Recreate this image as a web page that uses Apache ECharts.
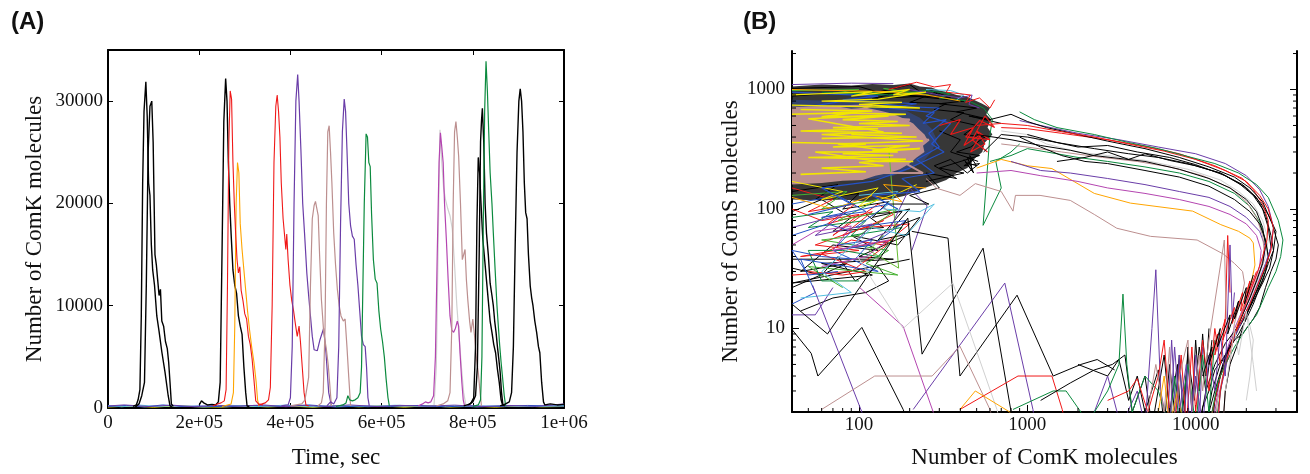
<!DOCTYPE html>
<html><head><meta charset="utf-8">
<script src="https://cdn.jsdelivr.net/npm/echarts@6/dist/echarts.min.js"></script>
<style>html,body{margin:0;padding:0;background:#fff}#c{width:1310px;height:474px}</style>
</head><body><div id="c"></div>
<script>
// ---------------- Panel A data: [time (sec), ComK molecules] ----------------
const xTicksA = [0, 200000, 400000, 600000, 800000, 1000000];
const xTickLabelsA = ['0', '2e+05', '4e+05', '6e+05', '8e+05', '1e+06'];
const yTicksA = [0, 10000, 20000, 30000];

const spkBlack1 = [[55000,150],[62000,300],[66000,800],[70000,1800],[73000,9000],[76000,22000],[79000,29000],[83000,31900],[86000,28500],[89000,22000],[92000,20800],[95000,16000],[98000,13500],[102000,12000],[107000,9000],[112000,7500],[118000,5500],[125000,3500],[132000,1200],[136000,200],[140000,100]];
const spkBlack2 = [[60000,100],[68000,400],[74000,1200],[80000,2500],[84000,12000],[88000,25000],[92000,29500],[96000,30000],[99000,26000],[101000,20500],[103000,15000],[106000,14000],[109000,12500],[112000,11000],[115000,11600],[118000,8500],[122000,8000],[126000,6500],[130000,5800],[133000,4500],[136000,2500],[139000,400],[143000,150]];
const spkBlack3 = [[200000,300],[205000,700],[210000,500],[218000,300],[228000,350],[236000,300],[242000,600],[246000,2500],[250000,15000],[254000,28000],[258000,32200],[261000,30000],[264000,24000],[267000,20000],[270000,17000],[274000,13500],[278000,12000],[282000,11200],[286000,9000],[290000,8000],[294000,7200],[298000,4000],[302000,1500],[305000,200],[310000,150]];
const spkRed1 = [[230000,200],[240000,400],[248000,500],[255000,700],[259000,1800],[262000,12000],[265000,26000],[268000,31000],[271000,30200],[274000,24000],[277000,20000],[280000,17000],[283000,14500],[286000,13200],[289000,13800],[292000,11500],[296000,10500],[300000,9200],[304000,8700],[308000,7000],[312000,6200],[316000,4800],[320000,2800],[324000,700],[330000,400],[340000,300]];
const spkOrange1 = [[250000,150],[262000,300],[270000,400],[275000,1500],[278000,8000],[281000,20000],[284000,24000],[287000,23000],[290000,18000],[294000,15500],[298000,13500],[302000,11500],[306000,9500],[310000,7800],[315000,6000],[320000,4500],[325000,2500],[328000,800],[331000,200]];
const spkRed2 = [[330000,300],[345000,500],[352000,800],[356000,2000],[360000,10000],[364000,24000],[368000,29500],[371000,30600],[374000,29000],[377000,26500],[380000,22000],[384000,18500],[387000,17000],[390000,15500],[392000,17000],[395000,14500],[399000,12000],[403000,10500],[407000,9500],[411000,8200],[415000,7000],[419000,8000],[422000,6500],[426000,4000],[430000,1500],[434000,300],[440000,200]];
const spkPurple1 = [[380000,200],[395000,300],[400000,1000],[404000,6000],[408000,20000],[412000,30000],[416000,32600],[419000,30000],[423000,25300],[427000,20000],[431000,17100],[436000,13200],[440000,11000],[444000,9000],[448000,7000],[452000,5700],[459000,5600],[465000,6700],[473000,7800],[478000,5400],[484000,1500],[490000,200]];
const spkRosy1 = [[400000,200],[425000,400],[432000,800],[436000,900],[440000,3000],[444000,12000],[448000,18500],[452000,19800],[455000,20200],[458000,19500],[461000,18800],[464000,15000],[468000,10600],[473000,7400],[479000,5700],[483000,4200],[486000,2500],[490000,200]];
const spkRosy2 = [[460000,200],[468000,500],[472000,1500],[476000,8000],[479000,20000],[482000,27000],[485000,27600],[488000,25000],[491000,22000],[495000,17100],[499000,14000],[503000,11600],[507000,10000],[511000,9000],[516000,8500],[520000,8700],[524000,6000],[528000,3000],[532000,200]];
const spkPurple2 = [[480000,200],[488000,600],[495000,400],[502000,1000],[506000,6000],[510000,18000],[514000,27000],[518000,30200],[521000,29000],[524000,25300],[528000,20000],[532000,17800],[536000,16800],[540000,16500],[544000,14000],[548000,12000],[552000,9500],[556000,7000],[560000,6200],[564000,6000],[567000,4000],[570000,1000],[573000,200]];
const spkGreen1 = [[500000,150],[515000,300],[522000,500],[526000,1200],[530000,800],[536000,700],[542000,800],[548000,1000],[553000,1500],[556000,4000],[559000,12000],[562000,20000],[566000,26800],[569000,26500],[572000,24000],[575000,23600],[578000,19000],[582000,14500],[586000,12600],[590000,12200],[594000,9500],[598000,7700],[602000,6500],[606000,5000],[610000,2800],[614000,1000],[617000,200]];
const spkOrchid1 = [[680000,200],[690000,400],[696000,600],[702000,500],[708000,600],[714000,1200],[718000,5000],[722000,15000],[726000,24000],[729000,26900],[732000,25500],[735000,24000],[738000,20000],[742000,16500],[746000,12500],[750000,9000],[754000,7600],[758000,7400],[762000,7800],[766000,8500],[769000,8000],[772000,5400],[776000,2500],[779000,800],[782000,200]];
const spkGray1 = [[715000,300],[720000,4000],[724000,16000],[728000,27200],[732000,24000],[736000,21500],[740000,20400],[745000,19500],[750000,18800],[755000,17500],[760000,14000],[765000,10000],[770000,7000],[775000,4000],[780000,1500],[785000,200]];
const spkRosy3 = [[720000,200],[735000,400],[745000,700],[750000,1500],[754000,8000],[757000,20000],[760000,27000],[763000,28000],[766000,26500],[769000,24600],[773000,20000],[777000,14500],[780000,15000],[783000,15500],[786000,12500],[789000,10600],[793000,8500],[796000,7400],[800000,8700],[804000,7000],[808000,4800],[812000,3500],[816000,1500],[819000,200]];
const spkBlack4 = [[780000,200],[795000,400],[802000,1000],[806000,6000],[809000,18000],[812000,24500],[815000,23000],[818000,20000],[822000,16500],[826000,14500],[830000,12500],[834000,10500],[838000,8500],[842000,7400],[846000,6200],[850000,5400],[854000,3800],[858000,2500],[862000,800],[866000,200]];
const spkBlack5 = [[790000,300],[800000,600],[806000,1200],[810000,4000],[814000,15000],[817000,26000],[819000,28000],[821000,29300],[824000,26000],[827000,20000],[830000,17100],[834000,15000],[838000,12200],[842000,11000],[845000,10000],[848000,8500],[851000,7400],[854000,6000],[857000,4800],[860000,3500],[863000,1500],[866000,300],[870000,200]];
const spkGreen2 = [[800000,150],[812000,300],[817000,800],[820000,5000],[823000,18000],[826000,29000],[829000,33900],[832000,31000],[835000,26900],[838000,23000],[842000,20000],[845000,17100],[849000,13500],[853000,10000],[856000,8000],[859000,6100],[862000,4500],[865000,3100],[869000,1200],[872000,200]];
const spkBlack6 = [[860000,200],[872000,400],[880000,600],[885000,1500],[889000,6000],[893000,16000],[897000,25000],[901000,30000],[904000,31200],[907000,30000],[910000,27000],[913000,22000],[916000,19100],[919000,18500],[922000,15000],[926000,11900],[929000,10800],[932000,10000],[936000,8500],[940000,7400],[944000,6000],[947000,5400],[951000,2500],[955000,600],[958000,300],[970000,400],[985000,300],[1000000,350]];

const baseBlue = [[0,150],[40000,250],[80000,100],[120000,300],[160000,150],[200000,200],[260000,120],[320000,250],[380000,150],[440000,300],[500000,100],[560000,200],[620000,150],[680000,250],[740000,120],[800000,220],[860000,150],[920000,250],[1000000,180]];
const baseCyan = [[0,250],[30000,120],[70000,280],[110000,150],[150000,230],[210000,100],[270000,260],[330000,140],[390000,280],[450000,120],[510000,250],[570000,130],[630000,270],[690000,150],[750000,240],[810000,110],[870000,260],[930000,140],[1000000,220]];
const baseYellow = [[0,100],[50000,200],[100000,80],[150000,220],[200000,120],[250000,90],[300000,210],[350000,110],[400000,190],[450000,80],[500000,230],[550000,120],[600000,200],[650000,90],[700000,220],[750000,100],[800000,180],[850000,90],[900000,210],[950000,120],[1000000,150]];
const baseMix = [[0,200],[35000,300],[90000,150],[140000,280],[190000,120],[240000,260],[290000,180],[340000,300],[390000,130],[430000,250],[480000,160],[530000,300],[590000,140],[640000,260],[700000,180],[760000,280],[820000,130],[880000,250],[940000,160],[1000000,400]];

// ---------------- Panel B data: [ComK, ComS] ----------------
const xTicksB = [100, 1000, 10000];
const yTicksB = [10, 100, 1000];
const xMinorB = [50,60,70,80,90,200,300,400,500,600,700,800,900,2000,3000,4000,5000,6000,7000,8000,9000,20000,30000];
const yMinorB = [3,4,5,6,7,8,9,20,30,40,50,60,70,80,90,200,300,400,500,600,700,800,900,2000];

// dense cluster outlines
const hazeDark = [[40,1060],[60,1100],[90,1080],[120,1110],[160,1090],[200,1120],[230,1060],[270,1040],[300,980],[340,950],[380,900],[430,880],[480,820],[540,760],[600,700],[570,620],[610,560],[580,480],[620,420],[560,360],[540,300],[480,260],[440,220],[380,200],[330,175],[280,160],[230,145],[190,130],[150,120],[110,115],[80,120],[60,118],[40,120]];
const bandBlue = [[40,820],[80,800],[130,760],[180,690],[230,580],[270,470],[290,380],[270,300],[240,250],[200,215],[160,190],[120,178],[80,175],[40,172]];
const coreRosy = [[40,720],[55,700],[70,730],[90,690],[110,705],[130,670],[150,640],[170,600],[190,560],[210,520],[225,470],[245,420],[255,380],[240,340],[245,300],[220,270],[200,240],[175,215],[150,200],[125,190],[105,175],[80,172],[60,165],[40,160]];

const clBlack1 = [[40,1020],[100,1060],[130,950],[200,1100],[230,960],[300,900],[260,1000],[350,850],[180,900],[420,800],[300,760],[500,700],[380,650],[600,560],[450,600],[700,520]];
const clBlack2 = [[40,880],[90,960],[160,920],[120,840],[250,880],[200,780],[330,760],[280,680],[420,640],[350,560],[500,500],[420,420],[560,400],[460,330],[380,300],[520,280],[300,220],[420,200],[250,170]];
const clBlack3 = [[300,450],[400,380],[350,300],[480,260],[420,230],[520,240],[440,200],[350,260],[280,230],[380,180],[250,200],[300,150],[200,130],[260,110],[150,110]];
const clBlack4 = [[420,260],[470,210],[455,280],[500,230],[430,245],[480,200],[440,270],[510,250]];
const clBlue1 = [[40,950],[130,880],[80,820],[220,760],[150,700],[280,640],[240,520],[330,560],[260,430],[300,330],[220,260],[280,200],[180,180],[230,140],[120,130],[170,100]];
const clBlue2 = [[45,700],[90,820],[190,720],[300,700],[250,600],[350,520],[270,350],[320,300],[200,220],[120,170],[60,150],[90,110],[50,90]];
const clRed1 = [[300,500],[400,560],[350,420],[480,480],[420,340],[530,420],[460,300],[560,350],[500,450],[600,380],[430,400],[520,550],[640,480],[560,600],[470,380],[580,300]];
const clRed3 = [[150,1000],[220,1150],[280,1050],[350,1100],[330,950],[460,900],[430,780],[520,850],[600,700],[640,820]];
const clGreen2 = [[60,950],[150,900],[250,980],[350,920],[300,850],[450,800],[550,700],[620,560],[600,420],[546,73],[700,150],[650,250],[800,300],[900,350]];
const clGreen3 = [[40,980],[100,1000],[70,930],[180,960],[140,1020],[260,900]];
const clCyan = [[250,1000],[350,980],[420,900],[380,820]];
const clPurple = [[200,1000],[300,900],[400,850],[470,900],[450,750],[520,700]];
const clPurple2 = [[40,1100],[90,1130],[160,1120]];
const clOrange = [[40,1000],[150,960],[250,900],[320,850],[400,800]];

const llRed = [[40,150],[70,120],[50,95],[95,110],[65,75],[120,95],[80,60],[140,80],[55,50],[100,45],[45,40],[160,55],[90,30],[40,28]];
const llRed2 = [[40,100],[60,80],[100,90],[70,60],[130,110],[160,90],[110,70],[200,75],[140,50],[90,55],[60,42],[110,30],[80,28],[50,30]];
const llGreen = [[40,130],[85,140],[60,100],[130,120],[75,80],[170,100],[100,60],[60,55],[150,45],[110,35],[170,28],[50,33],[80,22]];
const llGreen2 = [[150,330],[172,32],[115,45],[140,60]];
const llGreen3 = [[40,85],[70,95],[50,70],[110,80],[90,60],[180,70],[130,40],[80,45],[50,45],[60,25],[100,25]];
const llBlue = [[40,110],[75,130],[110,95],[60,85],[150,110],[95,70],[190,80],[120,50],[70,45],[130,30],[45,38],[55,20],[40,16]];
const llBlue2 = [[40,60],[65,75],[90,65],[75,50],[120,55],[95,38],[60,40],[40,45],[50,28],[75,30]];
const llBlack = [[40,95],[60,120],[90,85],[70,65],[140,70],[110,90],[180,95],[130,55],[200,62],[100,40],[160,38],[60,35],[120,28],[40,24],[200,38]];
const llBlack2 = [[40,140],[75,160],[55,120],[100,135],[80,100],[150,115],[120,85],[200,100],[160,70],[230,85],[170,50],[90,60],[130,45],[70,50],[45,30],[85,35],[40,22]];
const llBlack3 = [[40,32],[60,28],[75,40],[95,25],[130,33],[150,25],[110,20],[70,18],[45,14]];
const llBlackBar = [[40,38],[122,38]];
const llPurple = [[40,70],[80,90],[55,60],[120,75],[90,48],[150,65],[200,150],[254,106],[206,45]];
const llPurple2 = [[40,13],[55,13],[70,22]];
const llMagenta = [[40,50],[55,65],[90,72],[70,45],[150,55],[110,40],[60,33]];
const llCyan = [[100,130],[170,140],[140,100],[230,95],[280,110],[190,60],[120,70],[80,42],[60,30],[90,20],[45,18]];
const llOrange = [[40,125],[70,100],[120,130],[180,115],[140,160],[250,150]];
const llYellow = [[40,170],[80,140],[60,120],[130,150],[100,105],[170,135],[220,160]];

const yel1 = [[40,620],[95,640],[60,590],[150,600],[80,560],[170,540],[100,520],[200,500],[70,480],[130,470],[45,450],[180,430],[90,420],[220,400],[60,390]];
const yel2 = [[40,360],[110,350],[70,330],[200,340],[120,310],[230,320],[80,290],[160,280],[50,270],[190,260],[100,245],[140,230],[60,220],[110,205],[45,195]];
const yel3 = [[40,900],[120,960],[90,880],[200,1000],[160,900],[250,950],[130,830],[60,800],[180,780],[100,750],[230,700],[40,740]];
const yel4 = [[45,680],[120,660],[70,640],[190,620],[110,600],[50,570],[140,440],[60,420],[240,370],[75,350],[170,300],[55,300],[130,250],[210,250]];
const rosyZ = [[40,700],[120,740],[80,600],[200,560],[150,400],[260,380],[180,250],[240,200],[120,200],[60,220]];

const loBlack1 = [[40,16],[65,9],[195,84],[237,6.1],[546,47],[830,1.5]];
const loBlack2 = [[40,9.8],[52,6.2],[57,4],[104,10.2],[183,2.1],[200,1.5]];
const loBlack3 = [[206,65],[338,57],[398,4],[869,19],[1424,4],[2080,5],[2600,5.5],[3300,4.5]];
const loPurple1 = [[53,23],[104,2],[110,1.5]];
const loPurple2 = [[210,2.1],[735,24],[1080,2.1],[1120,1.5]];
const loOrchid = [[101,22],[183,10.4],[276,2],[290,1.5]];
const loGray = [[98,40],[183,10],[361,24],[660,2.1],[700,1.5]];
const loRosy = [[60,2.1],[124,4],[272,4],[398,7.1],[600,2.1],[640,1.5]];
const loRed = [[398,2.1],[880,4],[1400,4],[1612,2.1],[1700,1.5]];
const loOrange = [[398,2.1],[491,3],[786,2],[820,1.5]];
const loGreen = [[822,2.1],[1424,3],[1700,3],[2080,2],[2200,1.5]];

const arcGreen1 = [[900,650],[1100,560],[1500,480],[2500,420],[4000,360],[6000,320],[9000,275],[13000,240],[18000,200],[23000,160],[27000,125],[31000,80],[33000,55],[32000,40],[30000,30],[27000,22],[25000,17],[23000,13],[20000,10],[17000,7],[15000,5],[13500,3.5],[12500,2],[12000,1.5]];
const arcBlack1 = [[600,560],[800,620],[1000,540],[1300,480],[2000,420],[3000,370],[5000,320],[8000,270],[12000,225],[17000,185],[21000,150],[25000,115],[28500,75],[31000,50],[30000,38],[28000,30],[26000,22],[24000,15],[22000,12],[19000,9],[17000,8],[15000,6],[13000,4.5],[12000,3],[11000,2.2],[10500,1.5]];
const arcRed1 = [[500,500],[700,520],[1000,500],[1500,450],[2500,400],[4000,350],[6500,305],[10000,260],[15000,210],[20000,170],[24000,130],[27000,100],[29000,70],[28000,45],[26000,33],[23000,22],[21000,16],[19000,12],[17000,9],[16000,6],[14000,4],[13000,2.5],[12000,1.5]];
const arcRed2 = [[700,480],[1000,470],[1600,430],[3000,380],[5000,335],[8000,290],[13000,230],[19000,180],[22000,145],[25000,110],[27000,80],[26500,55],[25000,40],[23000,28],[21000,20],[19500,15],[18000,11],[16500,8],[15000,5],[14000,3],[13500,1.5]];
const arcBlack2 = [[550,300],[700,420],[1000,400],[1500,360],[2000,330],[3000,340],[4500,300],[7000,270],[10000,235],[15000,190],[20000,150],[24000,115],[27000,90],[30000,65],[29000,45],[27000,35],[25000,25],[22000,18],[20000,13],[18000,10],[16000,7],[14500,5],[13000,3],[12000,2],[11500,1.5]];
const arcBlack3 = [[500,420],[800,380],[1200,340],[1800,310],[2500,280],[3500,265],[5000,250],[8000,215],[12000,180],[16000,150],[20000,120],[23000,95],[25000,70],[26000,50],[25000,35],[23000,25],[21000,18],[19000,13],[17000,9],[15500,6.5],[14000,4],[13000,2.5],[12500,1.5]];
const arcBlack4 = [[900,400],[1200,330],[1600,280],[2200,250],[3000,240],[5000,210],[8000,185],[12000,155],[17000,120],[21000,95],[24000,75],[26000,55],[27000,40],[26000,30],[24000,22],[22000,16],[20000,12],[18000,9],[16000,7],[14000,5],[12500,3],[11500,1.5]];
const arcBlack5 = [[1000,420],[1500,360],[2500,320],[4000,290],[6000,270],[9000,240],[14000,200],[19000,160],[23000,125],[26000,90],[28000,60],[29000,45],[27500,32],[25000,24],[22000,17],[20000,13],[17500,10],[15000,7.5],[13000,5],[11500,3],[10500,1.5]];
const arcBlack6 = [[1500,250],[2200,270],[3000,300],[4000,260],[5000,290],[7000,255],[10000,230],[14000,200],[18000,165],[22000,130],[25000,100],[27000,70],[28000,48],[26500,35],[24500,26],[22500,19],[20500,14],[19000,10],[17500,7],[16000,5],[15000,3],[14500,1.5]];
const arcPurple1 = [[900,550],[1200,500],[2000,430],[3500,380],[6000,330],[10000,290],[15000,240],[20000,190],[24000,145],[27000,105],[29000,70],[28000,48],[26000,35],[24000,26],[22000,19],[20000,14],[18000,10],[16000,7],[15000,4.5],[14000,3],[13500,1.5]];
const arcPurple2 = [[800,250],[1200,210],[1800,200],[3000,180],[5000,160],[8000,140],[12000,125],[16000,105],[20000,85],[24000,65],[26000,48],[25000,35],[23000,25],[21000,18],[19000,13],[17000,9],[15000,6],[14000,4],[13000,2.5],[12000,1.5]];
const arcOrchid = [[500,200],[800,210],[1200,190],[2000,170],[3000,150],[5000,135],[8000,120],[12000,105],[16000,90],[20000,75],[23000,60],[24500,45],[24000,33],[22000,24],[20000,17],[18000,12],[16500,9],[15000,6],[14000,4],[13000,2],[12500,1.5]];
const arcOrange = [[500,220],[700,260],[1000,230],[1400,218],[2500,135],[4100,112],[9600,96],[14100,74],[18000,65],[21000,57],[22000,52],[22500,34],[21500,25],[20000,18],[18500,13],[17000,9],[15500,6],[14000,4],[13000,2.5],[12000,1.5]];
const arcRosy1 = [[250,180],[290,149],[398,130],[491,163],[700,140],[822,96],[850,130],[1190,130],[1800,118],[2500,90],[3400,69],[5400,59],[10200,55],[14600,42],[17000,35],[19000,30],[19500,24],[19000,20],[18000,15],[17000,11],[16500,8],[16000,5],[15000,3],[14500,1.5]];
const arcRosy2 = [[700,350],[1000,330],[1600,300],[2800,270],[4500,250],[7000,225],[11000,190],[16000,150],[20000,115],[23000,85],[25000,60],[25500,45],[24500,33],[22500,24],[20500,17],[18500,12],[17000,9],[15500,6],[14500,4],[13500,2.5],[13000,1.5]];
const arcGray = [[700,450],[1000,420],[1300,350],[2000,300],[3000,280],[5000,255],[9000,215],[14000,175],[18000,140],[22000,110],[25000,80],[27000,55],[26000,40],[24000,28],[22000,20],[20000,14],[22000,8],[21000,4],[20000,2.5]];
const arcGreen2 = [[600,250],[800,280],[1000,320],[1300,300],[2000,270],[3000,250],[5000,225],[8000,200],[12000,170],[17000,135],[21000,105],[24000,78],[26000,55],[27000,40],[25500,30],[23500,22],[21000,16],[19000,12],[17000,9],[15500,6],[14500,4],[13500,2],[13000,1.5]];

const nzBlack1 = [[2000,5],[3000,4],[3500,5.5],[4000,2.5],[4500,4],[5000,2],[6000,4.5],[6500,1.5],[7000,5],[7500,2],[8000,6],[8500,1.5],[9000,7],[9500,2],[10000,8],[10500,3],[11000,9],[11500,4],[12000,10]];
const nzBlack2 = [[1200,2.5],[1800,3.5],[2500,4.5],[3200,5],[3800,6],[4200,2],[5000,4],[5500,1.5],[6500,6],[7000,2],[7800,5],[8200,1.5],[9000,6],[9800,2.5],[10500,7],[11500,3],[12500,8]];
const nzPurple1 = [[2500,2],[3000,4],[3600,1.5],[4500,3],[5000,1.5],[5500,10],[5800,31],[6200,3],[6800,1.5],[7200,8],[7600,2],[8000,6],[8500,1.5],[9000,5],[9500,2],[10000,6],[10500,1.5],[11000,7]];
const nzGreen = [[2200,1.5],[3000,3],[3500,5],[3700,19.4],[3900,5],[4200,2],[5000,4],[6000,3],[7000,1.5],[7500,4],[8000,1.5],[9000,5],[10000,1.5],[11000,6],[12000,2],[13000,8]];
const nzRed = [[3000,2.5],[4000,3],[4500,3.8],[5200,2],[6000,4],[6500,8],[7000,2],[7500,1.5],[8200,6],[8800,1.5],[9500,7],[10000,2],[11000,8],[12000,3],[13000,10],[14000,5],[15000,12],[15500,60],[16000,20]];
const nzRosy = [[5000,1.5],[5800,5],[6500,2],[7000,7],[7300,1.5],[8000,4],[9000,8],[9500,2],[10500,6],[11000,3],[12000,8],[14800,55],[15200,12]];
const nzOrange = [[6000,2],[6500,4],[7000,1.5],[7800,3],[8500,1.5]];
const nzPurple2 = [[7000,1.5],[7500,7],[8000,2],[8800,5],[9200,1.5],[10000,4],[11000,1.5],[12000,6],[13000,3],[14000,9],[15000,4],[16000,50],[16500,12],[17000,20]];
const nzRed2 = [[12000,5],[13500,9],[13000,6],[15000,12],[14500,8],[17000,15],[16500,11],[19000,20],[18500,14],[21000,25],[20000,18],[23000,30]];
const nzBlack3 = [[11000,4],[12500,7],[12000,5],[14000,10],[13500,7],[16000,13],[15500,9],[18000,17],[17000,12],[20000,22],[19500,16],[22000,28]];
const nzGray = [[15000,3],[17000,10],[18000,6],[20000,14],[22000,5],[23000,3]];

// ---------------- styling ----------------
const SERIF = 'Liberation Serif';
const C = {black:'#000000', red:'#F01818', orange:'#FFA500', purple:'#6A3DA8', rosy:'#BC8F8F', green:'#0B8A3E', orchid:'#B445B0', gray:'#D0D0D0', blue:'#2552C8', cyan:'#55C0E0', yellow:'#F2E600', lgreen:'#44B030'};
const B_XMIN = 40, B_XMAX = 40000, B_YMIN = 2, B_YMAX = 2100;

function lineA(data, color, w) {
  return {type:'line', xAxisIndex:0, yAxisIndex:0, data, showSymbol:false, symbol:'none', silent:true, animation:false,
    lineStyle:{color, width:w||1.1}};
}
function lineB(data, color, w) {
  return {type:'line', xAxisIndex:2, yAxisIndex:2, data, showSymbol:false, symbol:'none', silent:true, animation:false, clip:true,
    lineStyle:{color, width:w||1}};
}
function polyB(points, color, opacity) {
  return {type:'custom', xAxisIndex:2, yAxisIndex:2, data:points, silent:true, animation:false,
    renderItem:(params, api) => {
      if (params.dataIndex !== 0) return null;
      return {type:'polygon', shape:{points: points.map(p => api.coord(p))}, style:{fill:color, opacity:opacity}};
    }};
}
function ticksB(data, dir) {
  return {type:'custom', xAxisIndex:2, yAxisIndex:2, data, silent:true, animation:false, clip:false, z:5,
    renderItem:(params, api) => {
      const c = api.coord([api.value(0), api.value(1)]);
      let x2 = c[0], y2 = c[1];
      if (dir === 'up') y2 -= 4; else if (dir === 'right') x2 += 4; else x2 -= 4;
      return {type:'line', shape:{x1:c[0], y1:c[1], x2, y2}, style:{stroke:'#000', lineWidth:1}};
    }};
}
function isPow10(v) { const l = Math.log10(v); return Math.abs(l - Math.round(l)) < 1e-6; }

const labelStyle = {fontFamily:SERIF, fontSize:19, color:'#111'};
const nameStyle = {fontFamily:SERIF, fontSize:23, color:'#111'};

const option = {
  animation:false,
  backgroundColor:'#fff',
  title:[
    {text:'(A)', left:6, top:5, textStyle:{fontFamily:'Liberation Sans', fontWeight:'bold', fontSize:24, color:'#111'}},
    {text:'(B)', left:738, top:5, textStyle:{fontFamily:'Liberation Sans', fontWeight:'bold', fontSize:24, color:'#111'}}
  ],
  grid:[
    {left:108, top:50, width:456, height:359},
    {left:792, top:51, width:505, height:365}
  ],
  xAxis:[
    {gridIndex:0, type:'value', min:0, max:1000000, interval:200000, position:'bottom',
      axisLine:{onZero:false, lineStyle:{color:'#000', width:2}},
      axisTick:{inside:true, length:5, lineStyle:{color:'#000'}},
      axisLabel:{...labelStyle, margin:6, formatter:v => { const i = xTicksA.indexOf(v); return i >= 0 ? xTickLabelsA[i] : ''; }},
      splitLine:{show:false},
      name:'Time, sec', nameLocation:'middle', nameGap:38, nameTextStyle:nameStyle},
    {gridIndex:0, type:'value', min:0, max:1000000, interval:200000, position:'top',
      axisLine:{onZero:false, lineStyle:{color:'#000', width:2}},
      axisTick:{inside:true, length:5, lineStyle:{color:'#000'}},
      axisLabel:{show:false}, splitLine:{show:false}},
    {gridIndex:1, type:'log', logBase:10, min:B_XMIN, max:B_XMAX, position:'bottom',
      axisLine:{onZero:false, lineStyle:{color:'#000', width:2}},
      axisTick:{inside:true, length:7, lineStyle:{color:'#000'}, customValues:xTicksB},
      axisLabel:{...labelStyle, margin:4, customValues:xTicksB, formatter:v => isPow10(v) ? String(Math.round(v)) : ''},
      splitLine:{show:false}, minorTick:{show:false},
      name:'Number of ComK molecules', nameLocation:'middle', nameGap:34, nameTextStyle:nameStyle}
  ],
  yAxis:[
    {gridIndex:0, type:'value', min:0, max:35000, interval:10000, position:'left',
      axisLine:{onZero:false, lineStyle:{color:'#000', width:2}},
      axisTick:{inside:true, length:5, lineStyle:{color:'#000'}},
      axisLabel:{...labelStyle, margin:5, formatter:v => yTicksA.indexOf(v) >= 0 ? String(v) : ''},
      splitLine:{show:false},
      name:'Number of ComK molecules', nameLocation:'middle', nameGap:62, nameTextStyle:nameStyle},
    {gridIndex:0, type:'value', min:0, max:35000, interval:10000, position:'right',
      axisLine:{onZero:false, lineStyle:{color:'#000', width:2}},
      axisTick:{inside:true, length:5, lineStyle:{color:'#000'}},
      axisLabel:{show:false}, splitLine:{show:false}},
    {gridIndex:1, type:'log', logBase:10, min:B_YMIN, max:B_YMAX, position:'left',
      axisLine:{onZero:false, lineStyle:{color:'#000', width:2}},
      axisTick:{inside:true, length:7, lineStyle:{color:'#000'}, customValues:yTicksB},
      axisLabel:{...labelStyle, margin:7, customValues:yTicksB, formatter:v => isPow10(v) ? String(Math.round(v)) : ''},
      splitLine:{show:false},
      name:'Number of ComS molecules', nameLocation:'middle', nameGap:50, nameTextStyle:nameStyle},
    {gridIndex:1, type:'log', logBase:10, min:B_YMIN, max:B_YMAX, position:'right',
      axisLine:{onZero:false, lineStyle:{color:'#000', width:2}},
      axisTick:{inside:true, length:7, lineStyle:{color:'#000'}, customValues:yTicksB},
      axisLabel:{show:false}, splitLine:{show:false}}
  ],
  series:[
    lineA(baseYellow, C.yellow, 1), lineA(baseCyan, C.cyan, 1), lineA(baseBlue, C.blue, 1), lineA(baseMix, C.purple, 1),
    lineA(spkBlack1, C.black, 1.4), lineA(spkBlack2, C.black, 1.4), lineA(spkBlack3, C.black, 1.4),
    lineA(spkOrange1, C.orange, 1.1), lineA(spkRed1, C.red, 1.1), lineA(spkRed2, C.red, 1.1),
    lineA(spkPurple1, C.purple, 1.2), lineA(spkRosy1, C.rosy, 1.2), lineA(spkRosy2, C.rosy, 1.2),
    lineA(spkPurple2, C.purple, 1.2), lineA(spkGreen1, C.green, 1.2),
    lineA(spkGray1, C.gray, 1.2), lineA(spkOrchid1, C.orchid, 1.2), lineA(spkRosy3, C.rosy, 1.2),
    lineA(spkBlack4, C.black, 1.4), lineA(spkBlack5, C.black, 1.4), lineA(spkGreen2, C.green, 1.2), lineA(spkBlack6, C.black, 1.4),

    lineB(llBlack, C.black), lineB(llBlack2, C.black), lineB(llBlack3, C.black), lineB(llBlackBar, C.black),
    lineB(llRed, C.red), lineB(llRed2, C.red), lineB(llGreen, C.lgreen), lineB(llGreen2, '#66BB33'), lineB(llGreen3, C.green),
    lineB(llBlue, C.blue), lineB(llBlue2, C.blue), lineB(llPurple, C.purple), lineB(llPurple2, C.purple), lineB(llMagenta, C.orchid),
    lineB(llCyan, C.cyan), lineB(llOrange, C.orange), lineB(llYellow, C.yellow),
    polyB(hazeDark, '#161616', 0.86),
    lineB(clBlack1, C.black), lineB(clBlack2, C.black), lineB(clBlack3, C.black), lineB(clBlack4, C.black),
    lineB(clBlue1, C.blue, 1.2), lineB(clBlue2, C.blue, 1.2),
    lineB(clGreen2, C.green), lineB(clGreen3, C.lgreen), lineB(clCyan, C.cyan), lineB(clPurple, C.purple), lineB(clPurple2, C.purple),
    lineB(clOrange, C.orange), lineB(clRed3, C.red),
    polyB(bandBlue, '#3050a8', 0.5),
    polyB(coreRosy, C.rosy, 1),
    lineB(rosyZ, C.rosy, 2),
    lineB(yel1, C.yellow, 1.6), lineB(yel2, C.yellow, 1.6), lineB(yel3, C.yellow, 1.3), lineB(yel4, C.yellow, 1.5),
    lineB(clRed1, C.red, 1.1),
    lineB(loBlack1, C.black), lineB(loBlack2, C.black), lineB(loBlack3, C.black),
    lineB(loPurple1, C.purple), lineB(loPurple2, C.purple), lineB(loOrchid, C.orchid), lineB(loGray, C.gray),
    lineB(loRosy, C.rosy), lineB(loRed, C.red), lineB(loOrange, C.orange), lineB(loGreen, C.green),
    lineB(arcRosy1, C.rosy), lineB(arcOrange, C.orange), lineB(arcOrchid, C.orchid), lineB(arcPurple2, C.purple),
    lineB(arcGreen2, C.green), lineB(arcGray, C.gray), lineB(arcRosy2, C.rosy),
    lineB(arcBlack6, C.black), lineB(arcBlack4, C.black), lineB(arcBlack3, C.black), lineB(arcBlack5, C.black),
    lineB(arcBlack2, C.black), lineB(arcPurple1, C.purple), lineB(arcRed2, C.red), lineB(arcBlack1, C.black),
    lineB(arcRed1, C.red), lineB(arcGreen1, C.green),
    lineB(nzBlack1, C.black), lineB(nzBlack2, C.black), lineB(nzPurple1, C.purple), lineB(nzGreen, C.green),
    lineB(nzRed, C.red), lineB(nzRosy, C.rosy), lineB(nzOrange, C.orange), lineB(nzPurple2, C.purple),
    lineB(nzRed2, C.red), lineB(nzBlack3, C.black), lineB(nzGray, C.gray),
    ticksB(xMinorB.map(v => [v, B_YMIN]), 'up'),
    ticksB(yMinorB.map(v => [B_XMIN, v]), 'right'),
    ticksB(yMinorB.map(v => [B_XMAX, v]), 'left')
  ]
};
const chart = echarts.init(document.getElementById('c'), null, {renderer:'canvas'});
chart.setOption(option);
</script>
</body></html>
